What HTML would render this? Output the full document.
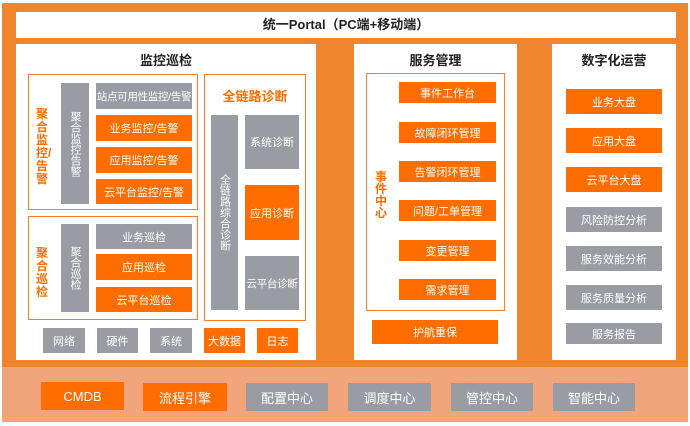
<!DOCTYPE html>
<html><head><meta charset="utf-8"><style>
*{margin:0;padding:0;box-sizing:border-box}
body{width:690px;height:426px;background:#fff;position:relative;overflow:hidden;font-family:"Liberation Sans","Noto Sans CJK SC",sans-serif}
div{position:absolute}
.b{display:flex;align-items:center;justify-content:center;color:#fff;font-size:11px;text-align:center;white-space:nowrap}
.o{background:#ff6d00}
.g{background:#999ca3}
.w{background:#fff}
.t{font-size:13px;font-weight:bold;color:#222;text-align:center}
.bd{border:1.5px solid #ff7a26}
.v{writing-mode:vertical-rl;white-space:normal}
</style></head><body>
<div style="left:2px;top:3px;width:686px;height:364px;background:#ef852c"></div>
<div style="left:2px;top:367px;width:686px;height:55px;background:#f2a57b"></div>
<div class="w t" style="left:16px;top:12px;width:660px;height:26px;line-height:26px">统一Portal（PC端+移动端）</div>

<div class="w" style="left:16px;top:44px;width:300px;height:316px"></div>
<div class="t" style="left:16px;top:50px;width:300px">监控巡检</div>
<div class="bd" style="left:28px;top:74px;width:170px;height:136px"></div>
<div style="left:36px;top:108px;width:14px;font-size:12px;font-weight:bold;color:#ff6d00;line-height:13px">聚合监控/告警</div>
<div class="b g v" style="left:61px;top:83px;width:28px;height:121px">聚合监控告警</div>
<div class="b g" style="left:96px;top:83px;width:96px;height:26px;font-size:10.5px;letter-spacing:-0.3px">站点可用性监控/告警</div>
<div class="b o" style="left:96px;top:115px;width:96px;height:26px">业务监控/告警</div>
<div class="b o" style="left:96px;top:147px;width:96px;height:26px">应用监控/告警</div>
<div class="b o" style="left:96px;top:179px;width:96px;height:25px">云平台监控/告警</div>

<div class="bd" style="left:28px;top:216px;width:170px;height:104px"></div>
<div style="left:36px;top:247px;width:14px;font-size:12px;font-weight:bold;color:#ff6d00;line-height:13px">聚合巡检</div>
<div class="b g v" style="left:61px;top:224px;width:28px;height:88px">聚合巡检</div>
<div class="b g" style="left:96px;top:224px;width:96px;height:25px">业务巡检</div>
<div class="b o" style="left:96px;top:254px;width:96px;height:26px">应用巡检</div>
<div class="b o" style="left:96px;top:287px;width:96px;height:25px">云平台巡检</div>

<div class="bd" style="left:204px;top:74px;width:102px;height:247px"></div>
<div style="left:204px;top:86px;width:102px;text-align:center;font-size:13px;font-weight:bold;color:#ff6d00">全链路诊断</div>
<div class="b g v" style="left:211px;top:115px;width:27px;height:195px">全链路综合诊断</div>
<div class="b g" style="left:245px;top:115px;width:54px;height:54px">系统诊断</div>
<div class="b o" style="left:245px;top:185px;width:54px;height:55px">应用诊断</div>
<div class="b g" style="left:245px;top:256px;width:54px;height:54px;font-size:10.5px;letter-spacing:-0.3px">云平台诊断</div>

<div class="b g" style="left:43px;top:328px;width:42px;height:25px">网络</div>
<div class="b g" style="left:97px;top:328px;width:41px;height:25px">硬件</div>
<div class="b g" style="left:150px;top:328px;width:42px;height:25px">系统</div>
<div class="b o" style="left:204px;top:328px;width:41px;height:25px">大数据</div>
<div class="b o" style="left:257px;top:328px;width:41px;height:25px">日志</div>

<div class="w" style="left:354px;top:44px;width:163px;height:316px"></div>
<div class="t" style="left:354px;top:50px;width:163px">服务管理</div>
<div class="bd" style="left:366px;top:73px;width:139px;height:238px"></div>
<div style="left:375px;top:171px;width:14px;font-size:12px;font-weight:bold;color:#ff6d00;line-height:12px">事件中心</div>
<div class="b o" style="left:399px;top:82px;width:97px;height:21px">事件工作台</div>
<div class="b o" style="left:399px;top:122px;width:97px;height:21px">故障闭环管理</div>
<div class="b o" style="left:399px;top:161px;width:97px;height:21px">告警闭环管理</div>
<div class="b o" style="left:399px;top:200px;width:97px;height:21px">问题/工单管理</div>
<div class="b o" style="left:399px;top:240px;width:97px;height:21px">变更管理</div>
<div class="b o" style="left:399px;top:279px;width:97px;height:21px">需求管理</div>
<div class="b o" style="left:372px;top:320px;width:126px;height:24px">护航重保</div>

<div class="w" style="left:552px;top:44px;width:124px;height:316px"></div>
<div class="t" style="left:552px;top:50px;width:124px">数字化运营</div>
<div class="b o" style="left:566px;top:89px;width:96px;height:25px">业务大盘</div>
<div class="b o" style="left:566px;top:128px;width:96px;height:25px">应用大盘</div>
<div class="b o" style="left:566px;top:167px;width:96px;height:25px">云平台大盘</div>
<div class="b g" style="left:566px;top:207px;width:96px;height:25px">风险防控分析</div>
<div class="b g" style="left:566px;top:246px;width:96px;height:25px">服务效能分析</div>
<div class="b g" style="left:566px;top:285px;width:96px;height:25px">服务质量分析</div>
<div class="b g" style="left:566px;top:323px;width:96px;height:21px">服务报告</div>

<div class="b o" style="left:41px;top:382px;width:83px;height:28px;font-size:13px">CMDB</div>
<div class="b o" style="left:143px;top:383px;width:84px;height:28px;font-size:13px">流程引擎</div>
<div class="b g" style="left:246px;top:383px;width:82px;height:28px;font-size:13px">配置中心</div>
<div class="b g" style="left:348px;top:383px;width:83px;height:28px;font-size:13px">调度中心</div>
<div class="b g" style="left:451px;top:383px;width:82px;height:28px;font-size:13px">管控中心</div>
<div class="b g" style="left:553px;top:383px;width:82px;height:28px;font-size:13px">智能中心</div>
</body></html>
